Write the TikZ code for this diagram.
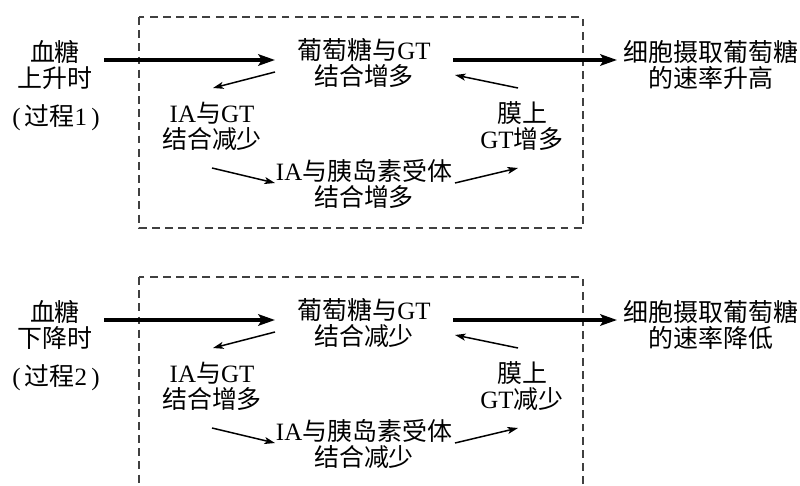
\documentclass[tikz,border=0pt]{standalone}
\usepackage{fontspec}
\setmainfont{Liberation Serif}
\newfontfamily\cjk{Noto Sans CJK SC}
\newcommand{\latn}[1]{{\rmfamily #1}}
\usetikzlibrary{arrows.meta}
\tikzset{
every picture/.style={x=0.02cm, y=-0.02cm},
txt/.style={align=center, inner sep=0pt, font=\fontsize{14.2}{14.8}\selectfont\cjk},
bigarrow/.style={line width=1.8pt, -{Stealth[length=9.5pt, width=6.5pt, inset=2pt]}},
smallarrow/.style={line width=0.85pt, -{Stealth[length=6pt, width=4pt, inset=1.5pt]}},
dashbox/.style={draw=black!75, line width=0.6pt, dash pattern=on 4.5pt off 3pt}
}

\begin{document}
\begin{tikzpicture}
    \useasboundingbox (0,0) rectangle (800,486);
    \foreach \r/\dy/\when/\gl/\ia/\rec/\mem/\rate in
      {1/0/上升时/增多/减少/增多/增多/升高, 2/260/下降时/减少/增多/减少/减少/降低} {
      \draw[dashbox] (139,{17+\dy}) rectangle (583,{228+\dy});
      \node[txt] (sugar\r) at (55,{65+\dy}) {血糖\\\when};
      \node[txt] (proc\r) at (56,{118+\dy}) {\latn{(\,}过程\latn{\r\,)}};
      \node[txt] (glc\r) at (364,{63+\dy}) {葡萄糖与\latn{GT}\\结合\gl};
      \node[txt] (iagt\r) at (212,{126+\dy}) {\latn{IA}与\latn{GT}\\结合\ia};
      \node[txt] (iarec\r) at (364,{184+\dy}) {\latn{IA}与胰岛素受体\\结合\rec};
      \node[txt] (mem\r) at (522,{126+\dy}) {膜上\\\latn{GT}\mem};
      \node[txt] (rate\r) at (711,{65+\dy}) {细胞摄取葡萄糖\\的速率\rate};
      \draw[bigarrow] ([shift={(49,-5)}]sugar\r.center) -- ([shift={(-89,-3)}]glc\r.center);
      \draw[bigarrow] ([shift={(89,-3)}]glc\r.center) -- ([shift={(-94,-5)}]rate\r.center);
      \draw[smallarrow] ([shift={(-89,9)}]glc\r.center) -- ([shift={(1,-38)}]iagt\r.center);
      \draw[smallarrow] ([shift={(0,42)}]iagt\r.center) -- ([shift={(-89,-1)}]iarec\r.center);
      \draw[smallarrow] ([shift={(91,-1)}]iarec\r.center) -- ([shift={(-4,42)}]mem\r.center);
      \draw[smallarrow] ([shift={(-4,-38)}]mem\r.center) -- ([shift={(91,12)}]glc\r.center);
    }
  \end{tikzpicture}
\end{document}
